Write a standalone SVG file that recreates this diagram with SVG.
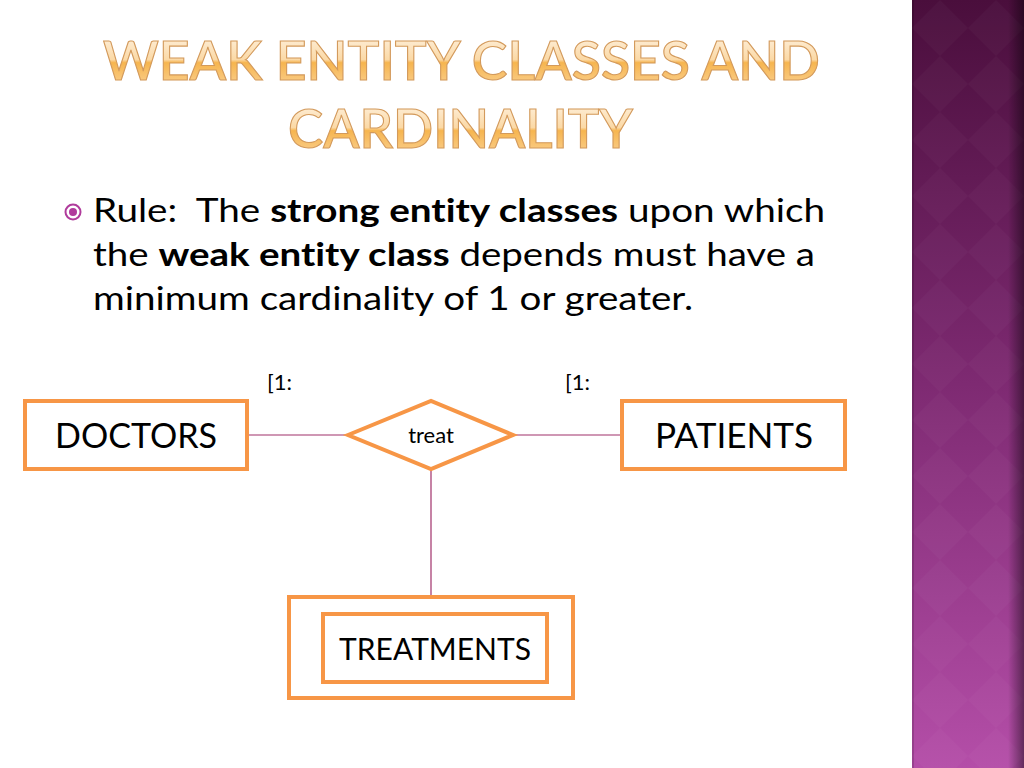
<svg xmlns="http://www.w3.org/2000/svg" width="1024" height="768" viewBox="0 0 1024 768">
<defs>
<linearGradient id="panel" x1="0" y1="0" x2="0" y2="1">
<stop offset="0" stop-color="#4a0e3c"/>
<stop offset="0.5" stop-color="#7e2a72"/>
<stop offset="1" stop-color="#b44ea8"/>
</linearGradient>
<linearGradient id="edge" x1="0" y1="0" x2="1" y2="0">
<stop offset="0" stop-color="#000" stop-opacity="0"/>
<stop offset="1" stop-color="#000" stop-opacity="0.45"/>
</linearGradient>
<linearGradient id="title" x1="0" y1="0" x2="0" y2="1">
<stop offset="0" stop-color="#fff6ea"/>
<stop offset="0.5" stop-color="#fbd9a6"/>
<stop offset="0.55" stop-color="#f6b54f"/>
<stop offset="1" stop-color="#fbd49a"/>
</linearGradient>
<pattern id="diam" width="56" height="56" patternUnits="userSpaceOnUse" x="912">
<path d="M28 0 L56 28 L28 56 L0 28 Z" fill="#ffffff" fill-opacity="0.022"/>
</pattern>
<style>
text{font-variant-ligatures:none}
.box{fill:#fff;stroke:#f79646;stroke-width:4}
.conn{stroke:#a0306a;stroke-width:1.2;fill:none}
.lbl{font-family:"Lato","Open Sans","Liberation Sans",sans-serif;fill:#000}
.body{font-family:"Lato","Open Sans","Liberation Sans",sans-serif;font-size:32px;fill:#000}
.ttl{font-family:"Lato","Open Sans","Liberation Sans",sans-serif;font-size:53px;font-weight:600;fill:url(#title);stroke:#d39a5c;stroke-width:1.1}
</style>
</defs>
<rect width="1024" height="768" fill="#fff"/>
<g id="panel-side">
<rect x="912" y="0" width="112" height="768" fill="url(#panel)"/>
<rect x="912" y="0" width="112" height="768" fill="url(#diam)"/>
<rect x="1008" y="0" width="16" height="768" fill="url(#edge)"/>
<rect x="912" y="0" width="2" height="768" fill="#000" fill-opacity="0.15"/>
</g>
<g id="title-text">
<text class="ttl" x="103" y="80" textLength="717" lengthAdjust="spacingAndGlyphs">WEAK ENTITY CLASSES AND</text>
<text class="ttl" x="288" y="148" textLength="345" lengthAdjust="spacingAndGlyphs">CARDINALITY</text>
</g>
<g id="bullet">
<circle cx="73" cy="212" r="7.5" fill="none" stroke="#b03c9c" stroke-width="2"/>
<circle cx="73" cy="212" r="4" fill="#b03c9c"/>
<text class="body" x="93" y="222" textLength="732" lengthAdjust="spacingAndGlyphs" xml:space="preserve">Rule:  The <tspan font-weight="bold">strong entity classes</tspan> upon which</text>
<text class="body" x="93" y="266" textLength="722" lengthAdjust="spacingAndGlyphs">the <tspan font-weight="bold">weak entity class</tspan> depends must have a</text>
<text class="body" x="93" y="310" textLength="600" lengthAdjust="spacingAndGlyphs">minimum cardinality of 1 or greater.</text>
</g>
<g id="connectors">
<line class="conn" x1="247" y1="435" x2="348" y2="435"/>
<line class="conn" x1="513" y1="435" x2="622" y2="435"/>
<line class="conn" x1="431" y1="469" x2="431" y2="597"/>
</g>
<g id="card-labels">
<text class="lbl" x="267" y="390" font-size="22">[1:</text>
<text class="lbl" x="565" y="390" font-size="22">[1:</text>
</g>
<g id="doctors">
<rect class="box" x="25" y="401" width="222" height="68"/>
<text class="lbl" x="136" y="448" font-size="34" text-anchor="middle" textLength="162" lengthAdjust="spacingAndGlyphs">DOCTORS</text>
</g>
<g id="treat">
<polygon class="box" points="348,435 431,401 513,435 431,469"/>
<text class="lbl" x="431" y="443" font-size="22" text-anchor="middle">treat</text>
</g>
<g id="patients">
<rect class="box" x="622" y="401" width="223" height="68"/>
<text class="lbl" x="734" y="448" font-size="34" text-anchor="middle" textLength="158" lengthAdjust="spacingAndGlyphs">PATIENTS</text>
</g>
<g id="treatments">
<rect class="box" x="289" y="597" width="284" height="101"/>
<rect class="box" x="323" y="614" width="224" height="68"/>
<text class="lbl" x="435" y="660" font-size="30" text-anchor="middle" textLength="192" lengthAdjust="spacingAndGlyphs">TREATMENTS</text>
</g>
</svg>
